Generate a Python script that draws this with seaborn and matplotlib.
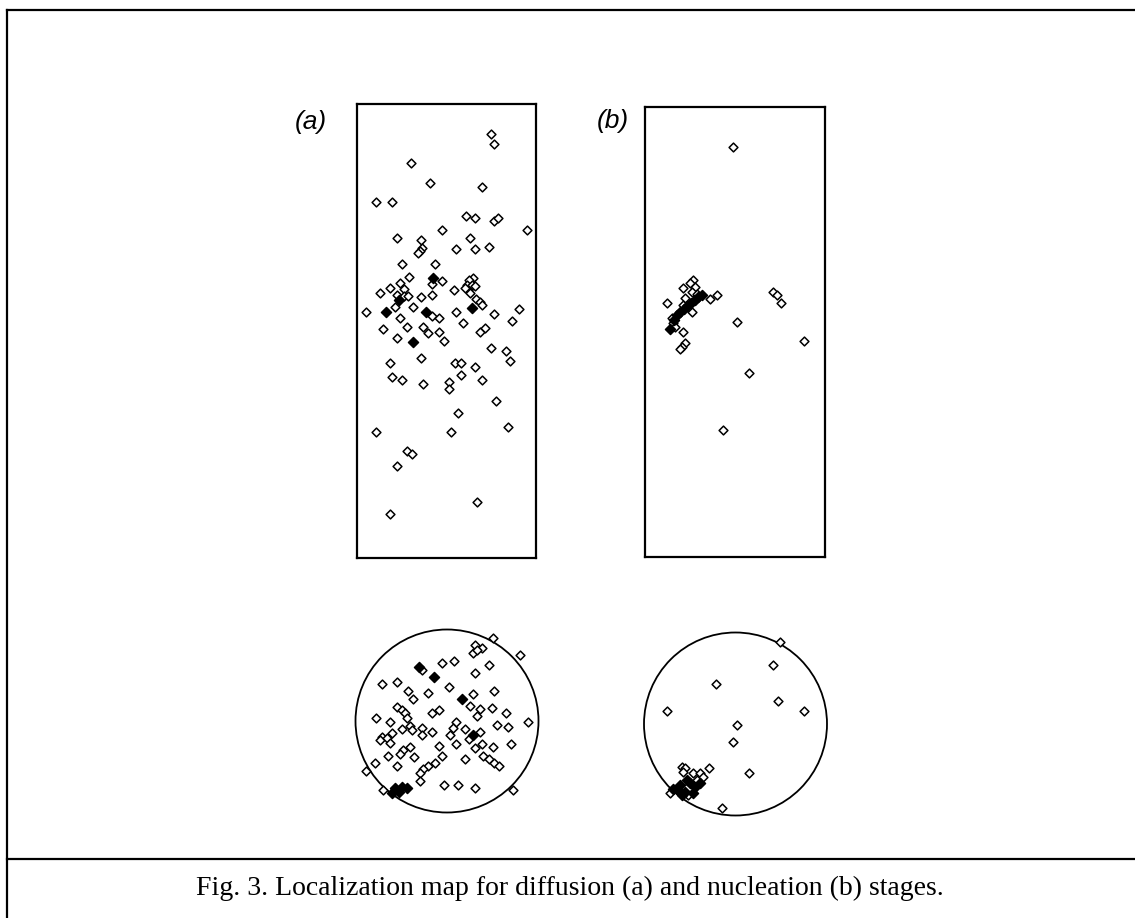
import matplotlib
matplotlib.use("Agg")
import matplotlib.pyplot as plt
from matplotlib.patches import Circle
from matplotlib.lines import Line2D
import seaborn as sns

W, H = 1135, 918          # output size in pixels
SPEC_R = 20.0             # specimen radius, mm
SPEC_H = 100.0            # specimen height, mm

# ---- (a) diffusion stage, side view: x across (mm), z along height (mm)
A_SIDE_X = [10.0, 10.6, -7.9, -3.7, 8.0, -15.7, -12.1, 4.3, 6.3, 10.6,
            11.6, 18.0, -1.0, -11.0, -5.7, 5.2, -5.4, -6.0, -6.4, 2.1,
            6.3, 9.5, -10.0, -2.6, -8.4, -3.3, -1.0, 5.9, 5.1, 4.5,
            5.6, 6.3, 4.9, 4.1, -10.5, -12.7, -14.8, -9.6, -11.1, -9.4,
            -8.6, -5.7, -3.2, 1.6, 5.2, 6.7, 7.4, 8.0, 16.3, -17.9,
            -11.5, -7.4, -3.3, -1.6, -10.3, 2.1, 10.6, 14.7, 3.7, -8.8,
            -14.2, -5.3, -4.2, -1.6, -0.6, -11.0, 7.4, 8.5, 10.0, 13.2,
            14.2, -12.6, -5.7, 2.0, 3.2, 6.3, -12.1, -10.0, -5.2, 3.2,
            0.5, 0.5, 8.0, 11.0, 2.6, -15.8, 1.1, 13.7, -8.8, -7.8,
            -11.0, 6.8, -12.6]
A_SIDE_Z = [93.3, 91.1, 86.9, 82.7, 81.7, 78.5, 78.5, 75.3, 74.8, 74.2,
            74.8, 72.2, 72.2, 70.5, 70.0, 70.5, 68.3, 67.6, 67.2, 68.0,
            68.0, 68.4, 64.8, 64.8, 62.0, 60.4, 61.1, 61.7, 61.2, 60.1,
            60.1, 60.0, 59.0, 59.4, 60.5, 59.4, 58.4, 59.2, 57.9, 57.7,
            57.6, 57.4, 57.9, 59.0, 58.3, 57.0, 56.3, 55.7, 54.8, 54.1,
            55.2, 55.3, 53.4, 52.9, 52.8, 54.2, 53.7, 52.2, 51.7, 50.9,
            50.4, 50.9, 49.5, 49.8, 47.8, 48.4, 49.8, 50.6, 46.2, 45.6,
            43.5, 43.0, 44.1, 43.0, 43.0, 42.0, 39.9, 39.3, 38.3, 40.4,
            38.8, 37.2, 39.3, 34.6, 31.9, 27.7, 27.7, 28.8, 23.5, 23.0,
            20.3, 12.3, 9.7]
# overlapping events (drawn solid)
A_SIDE_DENSE_X = [-3.0, -10.6, 5.8, -13.5, -4.6, -7.4]
A_SIDE_DENSE_Z = [61.6, 56.9, 55.0, 54.1, 54.2, 47.5]

# ---- (a) top view: x, y (mm)
A_TOP_X = [10.1, 6.1, 7.6, 5.6, 6.5, 16.0, -1.2, 1.5, -5.5, 9.2,
           6.1, -14.1, -10.9, 0.4, -8.5, -7.4, -4.2, 5.6, 10.3, 5.0,
           7.2, 6.6, 9.8, -11.0, -9.9, -9.2, -8.8, -3.3, -1.7, 12.8,
           -15.5, -12.5, 2.0, 1.4, 0.7, 17.7, -8.1, -7.7, -9.9, -5.5,
           -5.5, -3.3, 10.9, 13.4, 3.9, 7.2, 4.7, -12.1, -14.3, -14.6,
           -13.2, -12.5, 2.0, -1.7, 6.1, 7.7, 10.1, 13.9, -8.1, -9.6,
           -10.3, -13.0, -7.2, -1.2, 3.9, 7.9, 9.2, 10.3, 11.4, -15.7,
           -11.0, -2.6, -4.1, -5.2, -5.9, -17.7, -5.9, -0.6, 2.5, 6.1,
           -13.9, 14.5]
A_TOP_Y = [18.1, 16.6, 15.9, 14.8, 15.5, 14.4, 12.7, 13.2, 11.1, 12.2,
           10.6, 8.1, 8.6, 7.5, 6.6, 4.8, 6.1, 5.9, 6.5, 3.3,
           2.6, 1.1, 2.8, 3.0, 2.4, 1.7, 0.6, 1.7, 2.3, 1.8,
           0.7, -0.2, -0.2, -1.6, -3.1, -0.3, -1.1, -2.0, -1.8, -1.6,
           -3.1, -2.3, -0.9, -1.4, -1.8, -2.3, -4.0, -2.6, -3.4, -4.2,
           -3.8, -4.7, -5.1, -5.5, -6.0, -5.1, -5.6, -5.1, -5.6, -6.3,
           -7.2, -7.7, -7.8, -7.7, -8.2, -7.7, -8.4, -9.2, -9.8, -9.2,
           -9.8, -9.2, -9.8, -10.5, -11.4, -10.9, -13.1, -14.0, -14.0, -14.6,
           -15.1, -15.1]
A_TOP_DENSE_X = [-6.1, -2.8, 3.2, 5.7, -11.4, -12.1, -10.6, -9.9, -8.8]
A_TOP_DENSE_Y = [11.7, 9.6, 4.8, -3.1, -14.7, -15.8, -15.5, -14.4, -14.7]

# ---- (b) nucleation stage, side view
B_SIDE_X = [-0.4, -9.3, -10.0, -11.6, -8.9, -9.6, -8.5, -5.6, -4.1, -15.2,
            -11.1, -11.5, -14.1, -9.6, -13.7, 8.5, 9.3, 10.2, 0.5, -13.3,
            -11.5, -11.1, -11.8, -12.2, 15.3, 3.2, -2.6]
B_SIDE_Z = [91.2, 61.6, 60.8, 59.8, 60.1, 59.0, 58.4, 57.3, 58.2, 56.5,
            57.5, 56.0, 53.2, 54.4, 51.9, 58.8, 58.2, 56.4, 52.3, 51.2,
            50.1, 47.5, 46.7, 46.2, 47.9, 41.0, 28.2]
B_SIDE_DENSE_X = [-14.4, -13.6, -13.0, -12.2, -11.4, -10.6, -9.8, -9.0, -8.2, -7.4]
B_SIDE_DENSE_Z = [50.6, 52.6, 53.8, 54.5, 55.2, 55.8, 56.5, 57.2, 57.8, 58.2]

# ---- (b) top view
B_TOP_X = [9.7, 8.3, -4.3, -15.0, 9.2, 15.0, 0.4, -0.5, 3.0, -11.8,
           -11.0, -11.4, -9.2, -7.8, -7.0, -5.8, -8.5, -14.3, -10.3, -3.0]
B_TOP_Y = [18.0, 12.9, 8.7, 2.9, 5.1, 2.9, -0.3, -3.9, -10.8, -9.3,
           -9.7, -10.4, -10.8, -10.8, -11.5, -9.6, -12.2, -15.1, -15.5, -18.4]
B_TOP_DENSE_X = [-9.9, -10.7, -12.1, -13.6, -12.5, -11.0, -9.2, -8.9, -7.8, -11.8]
B_TOP_DENSE_Y = [-13.0, -12.2, -13.3, -14.1, -14.4, -14.8, -15.1, -13.7, -13.0, -15.5]

CAPTION = "Fig. 3. Localization map for diffusion (a) and nucleation (b) stages."


def px_axes(fig, left, top, right, bottom):
    return fig.add_axes([left / W, 1 - bottom / H, (right - left) / W, (bottom - top) / H])


def events(ax, x, y, dx, dy):
    sns.scatterplot(x=x, y=y, ax=ax, marker="D", s=20, color="white",
                    edgecolor="black", linewidth=1.1, clip_on=False, zorder=3)
    sns.scatterplot(x=dx, y=dy, ax=ax, marker="D", s=26, color="black",
                    edgecolor="black", linewidth=1.1, clip_on=False, zorder=4)


def side_panel(fig, box, x, z, dx, dz):
    ax = px_axes(fig, *box)
    events(ax, x, z, dx, dz)
    ax.set_xlim(-SPEC_R, SPEC_R)
    ax.set_ylim(0, SPEC_H)
    ax.set_xticks([])
    ax.set_yticks([])
    ax.set_xlabel("")
    ax.set_ylabel("")
    for sp in ax.spines.values():
        sp.set_visible(True)
        sp.set_color("black")
        sp.set_linewidth(1.6)
    return ax


def top_panel(fig, cx, cy, r_px, x, y, dx, dy):
    lim = SPEC_R * 1.1
    half = r_px * lim / SPEC_R
    ax = px_axes(fig, cx - half, cy - half, cx + half, cy + half)
    ax.add_patch(Circle((0, 0), SPEC_R, fill=False, edgecolor="black", linewidth=1.3))
    events(ax, x, y, dx, dy)
    ax.set_xlim(-lim, lim)
    ax.set_ylim(-lim, lim)
    ax.set_axis_off()
    return ax


sns.set_style("white")
fig = plt.figure(figsize=(W / 100, H / 100), dpi=100)

side_panel(fig, (357, 104, 536, 558), A_SIDE_X, A_SIDE_Z, A_SIDE_DENSE_X, A_SIDE_DENSE_Z)
side_panel(fig, (645, 107, 825, 557), B_SIDE_X, B_SIDE_Z, B_SIDE_DENSE_X, B_SIDE_DENSE_Z)
top_panel(fig, 447, 721, 91.5, A_TOP_X, A_TOP_Y, A_TOP_DENSE_X, A_TOP_DENSE_Y)
top_panel(fig, 735.5, 724, 91.5, B_TOP_X, B_TOP_Y, B_TOP_DENSE_X, B_TOP_DENSE_Y)

fig.text(311 / W, 1 - 122 / H, "(a)", ha="center", va="center", fontsize=19,
         style="italic", family="Liberation Sans", color="black")
fig.text(613 / W, 1 - 121 / H, "(b)", ha="center", va="center", fontsize=19,
         style="italic", family="Liberation Sans", color="black")

fig.text(570 / W, 1 - 888 / H, CAPTION, ha="center", va="center", fontsize=20,
         family="Liberation Serif", color="black")

# frame round the figure and the caption separator
frame = dict(color="black", linewidth=1.6, solid_capstyle="projecting")
fig.add_artist(Line2D([7 / W, 7 / W], [1 - 10 / H, 0], **frame))
fig.add_artist(Line2D([7 / W, 1], [1 - 10 / H, 1 - 10 / H], **frame))
fig.add_artist(Line2D([7 / W, 1], [1 - 859 / H, 1 - 859 / H], **frame))

fig.savefig("out.png", dpi=100)
plt.close(fig)
